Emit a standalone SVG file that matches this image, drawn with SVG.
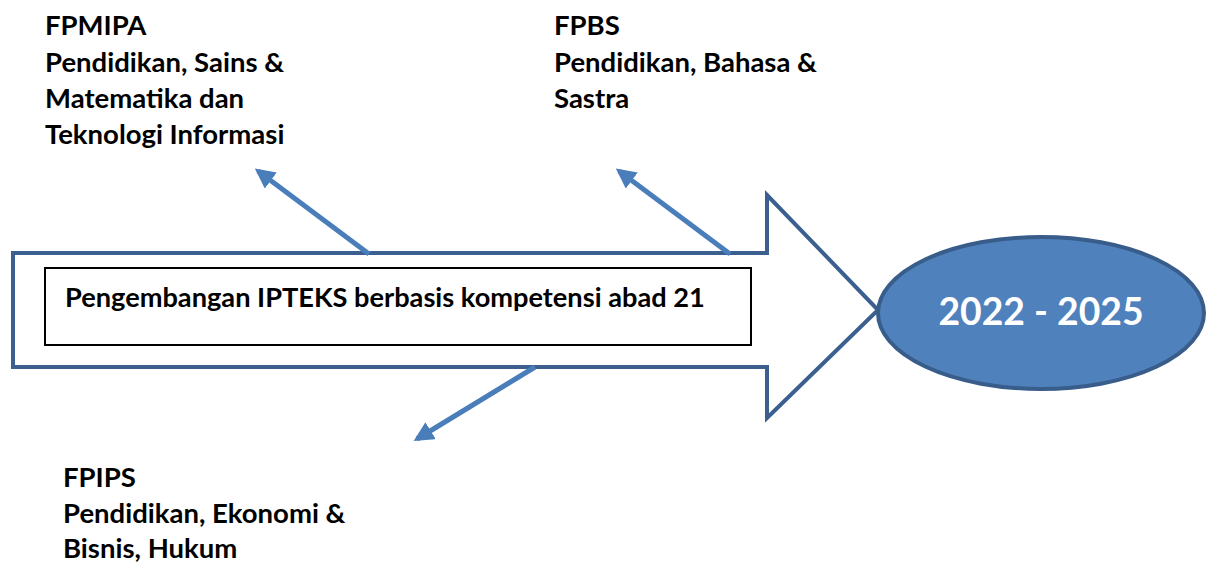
<svg xmlns="http://www.w3.org/2000/svg" width="1213" height="563" viewBox="0 0 1213 563">
<defs>
<style>
.lbl{font-family:Lato,"Liberation Sans",sans-serif;font-weight:bold;font-size:27.5px;fill:#000}
.main{font-family:Lato,"Liberation Sans",sans-serif;font-weight:bold;font-size:27.2px;fill:#000}
.yr{font-family:Lato,"Liberation Sans",sans-serif;font-weight:bold;font-size:37.3px;fill:#fff}
.ptr{stroke:#4A7EBB;stroke-width:5;fill:none}
</style>
<marker id="ah" viewBox="0 0 10 10" refX="8" refY="5" markerWidth="4" markerHeight="4" markerUnits="strokeWidth" orient="auto">
<path d="M0,0 L10,5 L0,10 Z" fill="#4A7EBB"/>
</marker>
</defs>
<rect width="1213" height="563" fill="#fff"/>
<g id="big-arrow">
<path d="M13,253 L767,253 L767,195 L878,310 L767,418 L767,367 L13,367 Z" fill="#fff" stroke="#3B5F8E" stroke-width="4" stroke-linejoin="miter"/>
</g>
<g id="main-box">
<rect x="45" y="268" width="706" height="77" fill="#fff" stroke="#000" stroke-width="2"/>
<text class="main" x="65" y="307">Pengembangan IPTEKS berbasis kompetensi abad 21</text>
</g>
<g id="period">
<ellipse cx="1041" cy="313" rx="163" ry="76" fill="#4F81BD" stroke="#385D8A" stroke-width="4"/>
<text class="yr" x="1041" y="325" text-anchor="middle">2022 - 2025</text>
</g>
<g id="connectors">
<line class="ptr" x1="369" y1="254" x2="258" y2="171" marker-end="url(#ah)"/>
<line class="ptr" x1="730" y1="254" x2="619" y2="171" marker-end="url(#ah)"/>
<line class="ptr" x1="535" y1="367" x2="417" y2="439" marker-end="url(#ah)"/>
</g>
<g id="fpmipa">
<text class="lbl" x="45" y="35">FPMIPA</text>
<text class="lbl" x="45" y="72">Pendidikan, Sains &amp;</text>
<text class="lbl" x="45" y="108">Matematika dan</text>
<text class="lbl" x="45" y="144">Teknologi Informasi</text>
</g>
<g id="fpbs">
<text class="lbl" x="554" y="35">FPBS</text>
<text class="lbl" x="554" y="72">Pendidikan, Bahasa &amp;</text>
<text class="lbl" x="554" y="108">Sastra</text>
</g>
<g id="fpips">
<text class="lbl" x="63" y="487">FPIPS</text>
<text class="lbl" x="63" y="523">Pendidikan, Ekonomi &amp;</text>
<text class="lbl" x="63" y="558">Bisnis, Hukum</text>
</g>
</svg>
